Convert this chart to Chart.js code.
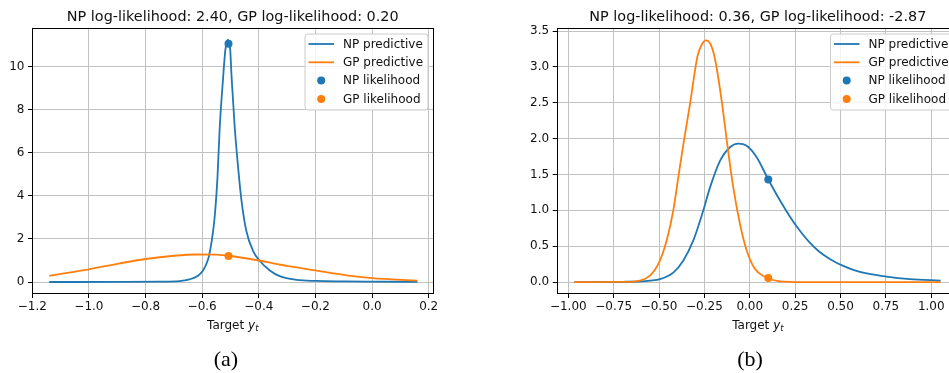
<!DOCTYPE html>
<html><head><meta charset="utf-8">
<script src="https://cdn.jsdelivr.net/npm/chart.js@4.4.1/dist/chart.umd.min.js"></script>
<style>
html,body{margin:0;padding:0;overflow:hidden;background:#fff;width:949px;height:373px;}
#wrap{position:relative;width:949px;height:373px;overflow:hidden;}
canvas{position:absolute;top:0;}
#ca{left:0;}
#cb{left:475px;}
.cap{position:absolute;top:347px;width:100px;text-align:center;font-family:'Liberation Serif','Times New Roman',serif;font-size:22px;line-height:24px;color:#000;}
</style></head><body>
<div id="wrap">
<canvas id="ca" width="475" height="373"></canvas>
<canvas id="cb" width="490" height="373"></canvas>
<div class="cap" style="left:176px">(a)</div>
<div class="cap" style="left:700px">(b)</div>
</div>
<script>
// ---------- data, panel (a) ----------
const titleA = 'NP log-likelihood: 2.40, GP log-likelihood: 0.20';
const npA_x = [-1.14, -0.90, -0.75, -0.68, -0.645, -0.615, -0.597, -0.585, -0.577, -0.567, -0.556, -0.546, -0.538, -0.526, -0.518, -0.509, -0.501, -0.496, -0.485, -0.473, -0.461, -0.444, -0.420, -0.397, -0.362, -0.326, -0.267, -0.197, -0.10, 0.0, 0.16];
const npA_y = [0.0, 0.005, 0.015, 0.04, 0.12, 0.29, 0.53, 0.85, 1.15, 1.85, 3.0, 4.85, 7.18, 9.5, 10.8, 11.27, 10.8, 9.5, 7.18, 5.32, 3.77, 2.37, 1.44, 0.99, 0.55, 0.27, 0.10, 0.05, 0.03, 0.02, 0.01];
const gpA_x = [-1.14, -1.0, -0.89, -0.80, -0.70, -0.62, -0.55, -0.50, -0.40, -0.33, -0.20, -0.09, 0.0, 0.16];
const gpA_y = [0.29, 0.59, 0.87, 1.07, 1.22, 1.28, 1.27, 1.21, 1.00, 0.82, 0.54, 0.31, 0.18, 0.06];
const npA_lik = [-0.507, 11.08];
const gpA_lik = [-0.507, 1.21];
const xTicksA = [-1.2, -1.0, -0.8, -0.6, -0.4, -0.2, 0.0, 0.2];
const yTicksA = [0, 2, 4, 6, 8, 10];

// ---------- data, panel (b) ----------
const titleB = 'NP log-likelihood: 0.36, GP log-likelihood: -2.87';
const npB_x = [-0.967, -0.80, -0.70, -0.60, -0.55, -0.495, -0.42, -0.366, -0.311, -0.256, -0.219, -0.164, -0.109, -0.063, -0.017, 0.038, 0.102, 0.166, 0.240, 0.29, 0.332, 0.38, 0.424, 0.47, 0.515, 0.607, 0.754, 0.883, 1.052];
const npB_y = [0.0, 0.0, 0.003, 0.01, 0.02, 0.04, 0.135, 0.30, 0.58, 1.0, 1.32, 1.69, 1.88, 1.93, 1.90, 1.74, 1.43, 1.14, 0.84, 0.67, 0.545, 0.43, 0.35, 0.28, 0.225, 0.14, 0.075, 0.04, 0.02];
const gpB_x = [-0.967, -0.70, -0.605, -0.55, -0.504, -0.458, -0.4215, -0.394, -0.366, -0.3295, -0.288, -0.265, -0.242, -0.215, -0.190, -0.155, -0.124, -0.091, -0.054, -0.017, 0.029, 0.084, 0.15, 0.25, 1.052];
const gpB_y = [0.0, 0.002, 0.02, 0.09, 0.25, 0.58, 1.0, 1.46, 1.92, 2.48, 3.15, 3.31, 3.37, 3.31, 3.09, 2.53, 1.92, 1.32, 0.81, 0.44, 0.18, 0.07, 0.015, 0.0, 0.0];
const npB_lik = [0.102, 1.43];
const gpB_lik = [0.102, 0.056];
const xTicksB = [-1.0, -0.75, -0.5, -0.25, 0.0, 0.25, 0.5, 0.75, 1.0];
const yTicksB = [0.0, 0.5, 1.0, 1.5, 2.0, 2.5, 3.0, 3.5];

const seriesLabels = ['NP predictive', 'GP predictive', 'NP likelihood', 'GP likelihood'];
const C_NP = '#1f77b4', C_GP = '#ff7f0e';
const FONT = '"DejaVu Sans", Verdana, sans-serif';

const zip = (xs, ys) => xs.map((x, i) => ({x, y: ys[i]}));
const signed = (v, d) => (v < 0 ? '\u2212' : '') + Math.abs(v).toFixed(d);

const mplDecor = {
  id: 'mplDecor',
  afterDatasetsDraw(chart, args, opts) {
    const ctx = chart.ctx, a = chart.chartArea;
    ctx.save();
    // spines
    ctx.strokeStyle = '#000'; ctx.lineWidth = 1;
    const l = Math.round(a.left) + 0.5, t = Math.round(a.top) + 0.5;
    const r = Math.round(a.right) - 0.5, b = Math.round(a.bottom) - 0.5;
    ctx.strokeRect(l, t, r - l, b - t);
    // title
    const cx = (a.left + a.right) / 2;
    ctx.fillStyle = '#111';
    ctx.font = '14.4px ' + FONT;
    ctx.textAlign = 'center'; ctx.textBaseline = 'alphabetic';
    ctx.fillText(opts.title, cx, 20.5);
    // x label: "Target y_t"
    const f1 = '12px ' + FONT, f2 = 'italic 12px ' + FONT, f3 = 'italic 8.4px ' + FONT;
    ctx.font = f1; const w1 = ctx.measureText('Target ').width;
    ctx.font = f2; const w2 = ctx.measureText('y').width;
    ctx.font = f3; const w3 = ctx.measureText('t').width;
    let x0 = cx - (w1 + w2 + w3) / 2;
    ctx.textAlign = 'left';
    ctx.font = f1; ctx.fillText('Target ', x0, 328.5);
    ctx.font = f2; ctx.fillText('y', x0 + w1, 328.5);
    ctx.font = f3; ctx.fillText('t', x0 + w1 + w2, 331);
    // legend
    const bw = 123, bh = 76;
    const bx = a.right - 6 - bw, by = a.top + 6;
    ctx.beginPath();
    ctx.roundRect(bx + 0.5, by + 0.5, bw, bh, 3);
    ctx.fillStyle = 'rgba(255,255,255,0.8)'; ctx.fill();
    ctx.strokeStyle = '#cccccc'; ctx.lineWidth = 1; ctx.stroke();
    ctx.font = '12px ' + FONT; ctx.textBaseline = 'middle';
    chart.data.datasets.forEach((ds, i) => {
      const cy = by + 10.5 + i * 18.3;
      if (ds.showLine) {
        ctx.beginPath(); ctx.moveTo(bx + 4, cy); ctx.lineTo(bx + 29.5, cy);
        ctx.strokeStyle = ds.borderColor; ctx.lineWidth = 1.8; ctx.stroke();
      } else {
        ctx.beginPath(); ctx.arc(bx + 16.7, cy, 4, 0, Math.PI * 2);
        ctx.fillStyle = ds.backgroundColor; ctx.fill();
      }
      ctx.fillStyle = '#111';
      ctx.fillText(ds.label, bx + 38.5, cy + 0.5);
    });
    ctx.restore();
  }
};

function makeChart(id, cfg) {
  const lineDs = (label, xs, ys, color, order) => ({
    label, data: zip(xs, ys), showLine: true, borderColor: color, backgroundColor: color,
    borderWidth: 1.8, pointRadius: 0, pointHoverRadius: 0, cubicInterpolationMode: 'monotone', fill: false, order
  });
  const ptDs = (label, p, color, order) => ({
    label, data: [{x: p[0], y: p[1]}], showLine: false, borderColor: color, backgroundColor: color,
    pointRadius: 4, pointBorderWidth: 0, order
  });
  const grid = {color: '#c2c2c2', lineWidth: 1, tickColor: '#000', tickLength: 4, drawTicks: true};
  const tickFont = {family: FONT, size: 12};
  return new Chart(document.getElementById(id), {
    type: 'scatter',
    data: {datasets: [
      lineDs(seriesLabels[0], cfg.npx, cfg.npy, C_NP, 4),
      lineDs(seriesLabels[1], cfg.gpx, cfg.gpy, C_GP, 3),
      ptDs(seriesLabels[2], cfg.npl, C_NP, 2),
      ptDs(seriesLabels[3], cfg.gpl, C_GP, 1)
    ]},
    options: {
      responsive: false, animation: false, devicePixelRatio: 1,
      layout: {padding: {left: 0, top: 27.5, right: cfg.padR, bottom: 0}},
      plugins: {legend: {display: false}, tooltip: {enabled: false}, title: {display: false}, mplDecor: {title: cfg.title}},
      scales: {
        x: {type: 'linear', min: cfg.xmin, max: cfg.xmax, grid, border: {display: false},
          afterBuildTicks: s => { s.ticks = cfg.xt.map(v => ({value: v})); },
          afterFit: s => { s.height = 79; },
          ticks: {font: tickFont, color: '#111', padding: 2, maxRotation: 0, minRotation: 0, autoSkip: false,
            callback: v => signed(v, cfg.xd)}},
        y: {type: 'linear', min: cfg.ymin, max: cfg.ymax, grid, border: {display: false},
          afterBuildTicks: s => { s.ticks = cfg.yt.map(v => ({value: v})); },
          afterFit: s => { s.width = cfg.yw; },
          ticks: {font: tickFont, color: '#111', padding: 3.5, autoSkip: false,
            callback: v => signed(v, cfg.yd)}}
      }
    },
    plugins: [mplDecor]
  });
}

makeChart('ca', {title: titleA, npx: npA_x, npy: npA_y, gpx: gpA_x, gpy: gpA_y, npl: npA_lik, gpl: gpA_lik,
  xt: xTicksA, yt: yTicksA, xd: 1, yd: 0, xmin: -1.201, xmax: 0.217, ymin: -0.557, ymax: 11.83, yw: 32, padR: 41.5});
makeChart('cb', {title: titleB, npx: npB_x, npy: npB_y, gpx: gpB_x, gpy: gpB_y, npl: npB_lik, gpl: gpB_lik,
  xt: xTicksB, yt: yTicksB, xd: 2, yd: 1, xmin: -1.064, xmax: 1.153, ymin: -0.167, ymax: 3.55, yw: 81.7, padR: 6});
</script>
</body></html>
